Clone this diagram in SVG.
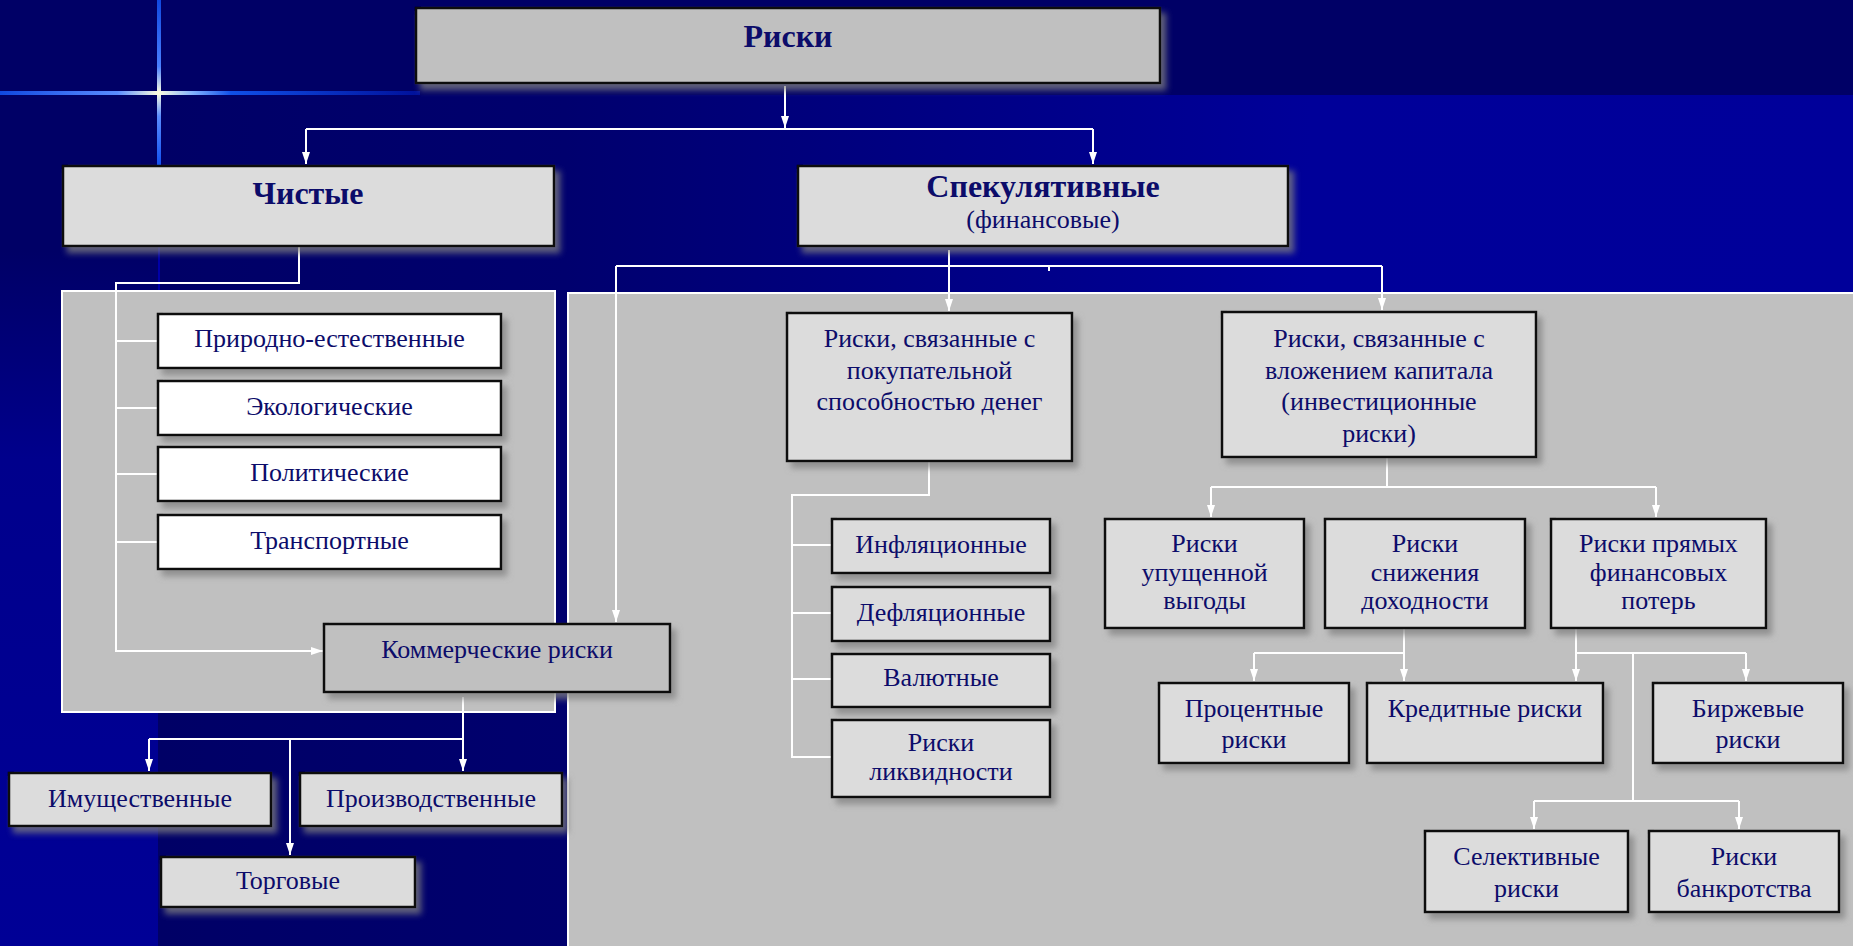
<svg xmlns="http://www.w3.org/2000/svg" width="1853" height="946" viewBox="0 0 1853 946">
<defs>
<style>
.box{stroke:#111;stroke-width:2.5;filter:url(#sh)}
.g1{fill:#DCDCDC}
.g2{fill:#C0C0C0}
.w{fill:#FFFFFF}
.t{font-family:"Liberation Serif","Times New Roman",serif;font-size:26px;fill:#0C0C6A;text-anchor:middle}
.b{font-weight:bold;font-size:32px}
.c{fill:none;stroke:#FFFFFF;stroke-width:2}
.a{marker-end:url(#arr)}
.panel{fill:#C0C0C0;stroke:#FFFFFF;stroke-width:2}
</style>
<filter id="sh" x="-10%" y="-10%" width="130%" height="140%">
<feDropShadow dx="5" dy="6" stdDeviation="3" flood-color="#808080" flood-opacity="0.75"/>
</filter>
<marker id="arr" markerUnits="userSpaceOnUse" markerWidth="13" markerHeight="9" refX="12" refY="4" orient="auto">
<path d="M0,0 L12,4 L0,8 Z" fill="#FFFFFF"/>
</marker>
<linearGradient id="bgMain" gradientUnits="userSpaceOnUse" x1="158" y1="0" x2="1853" y2="0">
<stop offset="0" stop-color="#000066"/>
<stop offset="0.24" stop-color="#00006E"/>
<stop offset="0.68" stop-color="#000099"/>
<stop offset="1" stop-color="#00009A"/>
</linearGradient>
<linearGradient id="bgLeft" gradientUnits="userSpaceOnUse" x1="0" y1="250" x2="0" y2="946">
<stop offset="0" stop-color="#000066"/>
<stop offset="0.3" stop-color="#00008C"/>
<stop offset="1" stop-color="#000096"/>
</linearGradient>
<linearGradient id="flV" gradientUnits="userSpaceOnUse" x1="0" y1="0" x2="0" y2="166">
<stop offset="0" stop-color="#1048E0"/>
<stop offset="0.4" stop-color="#4A80FF"/>
<stop offset="0.56" stop-color="#FFFFE0"/>
<stop offset="0.7" stop-color="#5A8CFF"/>
<stop offset="1" stop-color="#1050F0"/>
</linearGradient>
<linearGradient id="flH" gradientUnits="userSpaceOnUse" x1="0" y1="0" x2="420" y2="0">
<stop offset="0" stop-color="#1048E0"/>
<stop offset="0.28" stop-color="#5A8CFF"/>
<stop offset="0.377" stop-color="#FFFFE0"/>
<stop offset="0.46" stop-color="#80B0FF"/>
<stop offset="0.55" stop-color="#1050E8"/>
<stop offset="1" stop-color="#00109A"/>
</linearGradient>
</defs>

<g id="background">
<rect x="0" y="0" width="1853" height="946" fill="#000066"/>
<rect x="158" y="95" width="1695" height="851" fill="url(#bgMain)"/>
<rect x="0" y="95" width="158" height="851" fill="url(#bgLeft)"/>
<rect x="157" y="0" width="4" height="166" fill="url(#flV)"/>
<rect x="0" y="91" width="420" height="4" fill="url(#flH)"/>
<line x1="159" y1="247" x2="159" y2="300" stroke="#0000A8" stroke-width="2"/>
<rect id="panel-left" class="panel" x="62" y="291" width="493" height="421"/>
<rect id="panel-right" class="panel" x="568" y="293" width="1290" height="660"/>
</g>

<g id="connectors">
<path class="c a" d="M785,86 V128"/>
<path class="c" d="M306,129 H1093"/>
<path class="c a" d="M306,129 V164"/>
<path class="c a" d="M1093,129 V164"/>

<path class="c a" d="M299,247 V283 H116 V651 H323"/>
<path class="c" d="M116,341 H158 M116,408 H158 M116,474 H158 M116,542 H158"/>

<path class="c a" d="M949,250 V311"/>
<path class="c" d="M616,266 H1382"/>
<path class="c a" d="M616,266 V622"/>
<path class="c a" d="M1382,266 V310"/>
<path class="c" d="M1049,266 V271"/>

<path class="c a" d="M463,697 V771"/>
<path class="c" d="M149,739 H463"/>
<path class="c a" d="M149,739 V771"/>
<path class="c a" d="M290,739 V855"/>

<path class="c" d="M929,462 V495 H792 V757 H832 M792,545 H832 M792,613 H832 M792,679 H832"/>

<path class="c" d="M1387,458 V487 M1211,487 H1656"/>
<path class="c a" d="M1211,487 V517"/>
<path class="c a" d="M1656,487 V517"/>

<path class="c" d="M1404,629 V653 H1254"/>
<path class="c a" d="M1254,653 V681"/>
<path class="c a" d="M1404,653 V681"/>

<path class="c" d="M1576,629 V653 H1746"/>
<path class="c a" d="M1576,653 V681"/>
<path class="c a" d="M1746,653 V681"/>
<path class="c" d="M1633,653 V801 M1534,801 H1739"/>
<path class="c a" d="M1534,801 V829"/>
<path class="c a" d="M1739,801 V829"/>
</g>

<g id="n-riski"><rect class="box g2" x="416" y="8" width="744" height="75"/><text class="t b" x="788" y="47">Риски</text></g>
<g id="n-chistye"><rect class="box g1" x="63" y="166" width="491" height="80"/><text class="t b" x="308" y="204">Чистые</text></g>
<g id="n-spek"><rect class="box g1" x="798" y="166" width="490" height="80"/><text class="t b" x="1043" y="197">Спекулятивные</text><text class="t" x="1043" y="228">(финансовые)</text></g>

<g id="n-prirod"><rect class="box w" x="158" y="314" width="343" height="54"/><text class="t" x="329.5" y="347">Природно-естественные</text></g>
<g id="n-ekol"><rect class="box w" x="158" y="381" width="343" height="54"/><text class="t" x="329.5" y="415">Экологические</text></g>
<g id="n-polit"><rect class="box w" x="158" y="447" width="343" height="54"/><text class="t" x="329.5" y="481">Политические</text></g>
<g id="n-transp"><rect class="box w" x="158" y="515" width="343" height="54"/><text class="t" x="329.5" y="549">Транспортные</text></g>
<g id="n-komm"><rect class="box g2" x="324" y="624" width="346" height="68"/><text class="t" x="497" y="658">Коммерческие риски</text></g>
<g id="n-imush"><rect class="box g1" x="9" y="773" width="262" height="53"/><text class="t" x="140" y="807">Имущественные</text></g>
<g id="n-proizv"><rect class="box g1" x="300" y="773" width="262" height="53"/><text class="t" x="431" y="807">Производственные</text></g>
<g id="n-torg"><rect class="box g1" x="161" y="857" width="254" height="50"/><text class="t" x="288" y="889">Торговые</text></g>

<g id="n-pokup"><rect class="box g1" x="787" y="313" width="285" height="148"/><text class="t" x="929.5" y="347">Риски, связанные с</text><text class="t" x="929.5" y="378.5">покупательной</text><text class="t" x="929.5" y="410">способностью денег</text></g>
<g id="n-infl"><rect class="box g1" x="832" y="519" width="218" height="54"/><text class="t" x="941" y="553">Инфляционные</text></g>
<g id="n-defl"><rect class="box g1" x="832" y="587" width="218" height="54"/><text class="t" x="941" y="621">Дефляционные</text></g>
<g id="n-valut"><rect class="box g1" x="832" y="654" width="218" height="53"/><text class="t" x="941" y="686">Валютные</text></g>
<g id="n-likv"><rect class="box g1" x="832" y="720" width="218" height="77"/><text class="t" x="941" y="751">Риски</text><text class="t" x="941" y="780">ликвидности</text></g>

<g id="n-invest"><rect class="box g1" x="1222" y="312" width="314" height="145"/><text class="t" x="1379" y="347">Риски, связанные с</text><text class="t" x="1379" y="378.5">вложением капитала</text><text class="t" x="1379" y="410">(инвестиционные</text><text class="t" x="1379" y="441.5">риски)</text></g>
<g id="n-upush"><rect class="box g1" x="1105" y="519" width="199" height="109"/><text class="t" x="1204.5" y="552">Риски</text><text class="t" x="1204.5" y="580.5">упущенной</text><text class="t" x="1204.5" y="609">выгоды</text></g>
<g id="n-snizh"><rect class="box g1" x="1325" y="519" width="200" height="109"/><text class="t" x="1425" y="552">Риски</text><text class="t" x="1425" y="580.5">снижения</text><text class="t" x="1425" y="609">доходности</text></g>
<g id="n-pryam"><rect class="box g1" x="1551" y="519" width="215" height="109"/><text class="t" x="1658.5" y="552">Риски прямых</text><text class="t" x="1658.5" y="580.5">финансовых</text><text class="t" x="1658.5" y="609">потерь</text></g>
<g id="n-proc"><rect class="box g1" x="1159" y="683" width="190" height="80"/><text class="t" x="1254" y="717">Процентные</text><text class="t" x="1254" y="748">риски</text></g>
<g id="n-kred"><rect class="box g1" x="1367" y="683" width="236" height="80"/><text class="t" x="1485" y="717">Кредитные риски</text></g>
<g id="n-birzh"><rect class="box g1" x="1653" y="683" width="190" height="80"/><text class="t" x="1748" y="717">Биржевые</text><text class="t" x="1748" y="748">риски</text></g>
<g id="n-selekt"><rect class="box g1" x="1425" y="831" width="203" height="81"/><text class="t" x="1526.5" y="865">Селективные</text><text class="t" x="1526.5" y="897">риски</text></g>
<g id="n-bankr"><rect class="box g1" x="1649" y="831" width="190" height="81"/><text class="t" x="1744" y="865">Риски</text><text class="t" x="1744" y="897">банкротства</text></g>
</svg>
